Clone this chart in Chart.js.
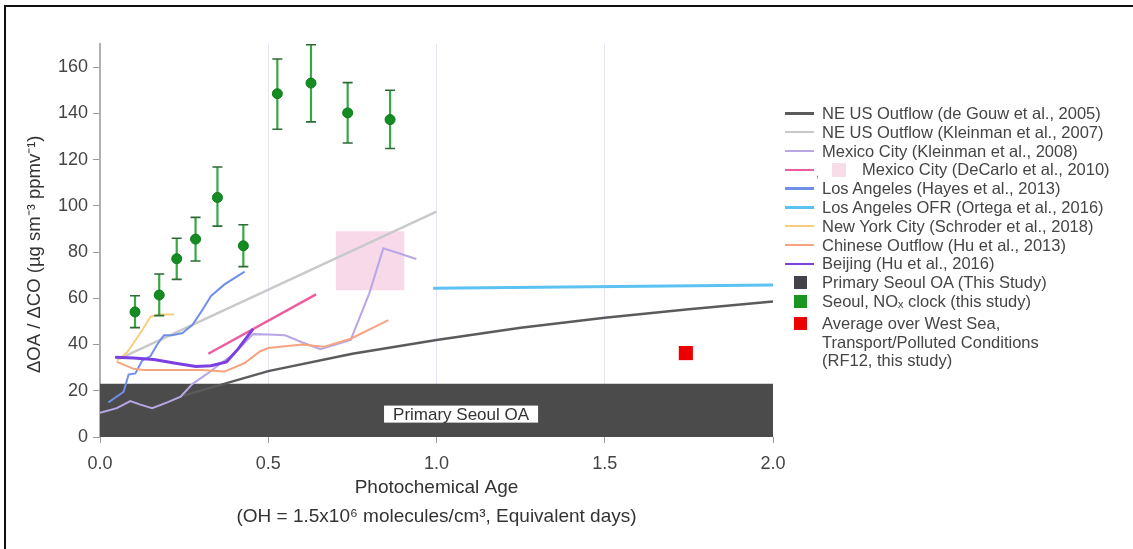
<!DOCTYPE html>
<html><head><meta charset="utf-8">
<script src="https://cdn.jsdelivr.net/npm/chart.js@4"></script>
<style>
html,body{margin:0;padding:0;background:#fff;}
#wrap{position:relative;width:1133px;height:549px;overflow:hidden;font-family:"Liberation Sans",Arial,sans-serif;background:#fff;}
#c{position:absolute;left:0;top:0;}
.frameTop{position:absolute;left:4px;top:5px;width:1129px;height:2px;background:#111;}
.frameLeft{position:absolute;left:4px;top:5px;width:2px;height:544px;background:#111;}
#legend{position:absolute;left:785px;top:104px;font-size:16.5px;color:#454545;}
.row{display:flex;align-items:center;height:18.8px;line-height:18.8px;white-space:nowrap;}
.row.multi{align-items:flex-start;height:auto;margin-top:3px;}
.ln{display:inline-block;width:29px;height:2.5px;margin-right:8px;flex:none;}
.sq{display:inline-block;width:13px;height:13px;margin-left:9px;margin-right:15px;flex:none;}
.multi .sq{margin-top:3px;}
.cm{display:inline-block;width:6px;margin-left:2px;font-size:11px;color:#777;position:relative;top:4px;}
.sq2{display:inline-block;width:14px;height:14px;margin-left:10px;margin-right:16px;flex:none;}
</style></head>
<body>
<div id="wrap">
<canvas id="c" width="1133" height="549"></canvas>
<div class="frameTop"></div><div class="frameLeft"></div>
<div id="legend"></div>
</div>
<script>
// ---------- data ----------
const xTicks = [0, 0.5, 1.0, 1.5, 2.0];
const xTickLabels = ['0.0', '0.5', '1.0', '1.5', '2.0'];
const yTicks = [0, 20, 40, 60, 80, 100, 120, 140, 160];
const yTickLabels = ['0', '20', '40', '60', '80', '100', '120', '140', '160'];
const xTitle = ['Photochemical Age', '(OH = 1.5x10⁶ molecules/cm³, Equivalent days)'];
const yTitle = 'ΔOA / ΔCO (µg sm⁻³ ppmv⁻¹)';

const seriesLabels = [
  'NE US Outflow (de Gouw et al., 2005)',
  'NE US Outflow (Kleinman et al., 2007)',
  'Mexico City (Kleinman et al., 2008)',
  'Mexico City (DeCarlo et al., 2010)',
  'Los Angeles (Hayes et al., 2013)',
  'Los Angeles OFR (Ortega et al., 2016)',
  'New York City (Schroder et al., 2018)',
  'Chinese Outflow (Hu et al., 2013)',
  'Beijing (Hu et al., 2016)',
  'Primary Seoul OA (This Study)',
  'Seoul, NOₓ clock (this study)',
  ['Average over West Sea,', 'Transport/Polluted Conditions', '(RF12, this study)']
];

const deGouw = [[0.25,18],[0.5,28.5],[0.75,36],[1.0,42],[1.25,47.3],[1.5,51.6],[1.75,55.3],[2.0,58.6]];
const kleinman07 = [[0.06,34],[1.0,97.5]];
const kleinman08 = [[0,10.5],[0.05,12.5],[0.09,15.5],[0.12,14],[0.155,12.5],[0.2,15],[0.24,17.5],[0.275,23],[0.32,27.5],[0.36,32],[0.39,35],[0.425,40],[0.455,44.5],[0.5,44.3],[0.55,44],[0.6,41],[0.655,38],[0.7,40],[0.745,42],[0.8,62],[0.842,81.6],[0.94,77]];
const decarlo = [[0.322,36],[0.642,61.7]];
const decarloBoxX = [0.70, 0.905];
const decarloBoxY = [63.5, 89];
const hayes = [[0.025,15],[0.045,17],[0.07,19.5],[0.085,27],[0.105,27.5],[0.125,33],[0.15,35],[0.17,40],[0.19,44],[0.215,44],[0.245,45],[0.275,48.5],[0.3,54],[0.33,61],[0.37,66],[0.43,71.5]];
const ortega = [[0.99,64.3],[2.0,65.8]];
const nyc = [[0.05,33],[0.08,36.5],[0.12,45],[0.15,52],[0.175,53],[0.22,53]];
const chineseOutflow = [[0.05,32.5],[0.1,29.5],[0.13,29],[0.3,29],[0.37,28.3],[0.43,32],[0.475,37],[0.5,38.5],[0.6,40],[0.665,39],[0.745,42.5],[0.857,50.6]];
const beijing = [[0.045,34.5],[0.1,34.2],[0.16,33.5],[0.22,32],[0.285,30.5],[0.33,30.8],[0.376,32.5],[0.41,38],[0.455,46.8]];
const primaryOAExtent = [0, 2.0];
const primaryOALevel = 23;
const primaryLabel = 'Primary Seoul OA';
const seoulX = [0.104,0.176,0.228,0.284,0.349,0.426,0.527,0.627,0.736,0.862];
const seoulY = [54.1,61.4,77.1,85.6,103.6,82.7,148.5,153.1,140.2,137.3];
const seoulHi = [61.1,70.5,86.0,95.0,116.8,91.8,163.5,169.7,153.3,150.0];
const seoulLo = [47.3,52.5,68.2,76.1,91.2,73.7,133.1,136.3,127.2,124.8];
const westSea = [[1.741,36.3]];

// ---------- styles ----------
const FONT = '"Liberation Sans", Arial, sans-serif';
const col = {
  deGouw:'#5b5b5b', kleinman07:'#c9c9c9', kleinman08:'#b9a6e6', decarlo:'#ec5c9e', decarloBox:'rgba(246,210,230,0.85)',
  hayes:'#6f8fe9', ortega:'#5cc2f2', nyc:'#f7cf7c', chinese:'#f5a47f', beijing:'#7b3fe2',
  primary:'#4b4b4b', primaryLegend:'#45434a', seoul:'#148c22', west:'#ec0000'
};
const pts = a => a.map(p => ({x:p[0], y:p[1]}));
const lineDs = (label, data, color, w, order) => ({
  label, data: pts(data), borderColor: color, backgroundColor: color, borderWidth: w,
  pointRadius: 0, tension: 0, fill: false, showLine: true, order
});

const datasets = [
  lineDs(seriesLabels[0], deGouw, col.deGouw, 2.5, 20),
  lineDs(seriesLabels[1], kleinman07, col.kleinman07, 2.5, 19),
  lineDs(seriesLabels[2], kleinman08, col.kleinman08, 2, 18),
  lineDs(seriesLabels[3], decarlo, col.decarlo, 2.5, 17),
  lineDs(seriesLabels[4], hayes, col.hayes, 2, 16),
  lineDs(seriesLabels[5], ortega, col.ortega, 3, 15),
  lineDs(seriesLabels[6], nyc, col.nyc, 2, 14),
  lineDs(seriesLabels[7], chineseOutflow, col.chinese, 2, 13),
  lineDs(seriesLabels[8], beijing, col.beijing, 3, 12),
  { label: 'DeCarlo range', data: decarloBoxX.map(x => ({x, y: decarloBoxY[1]})),
    borderWidth: 0, borderColor: 'rgba(0,0,0,0)', backgroundColor: col.decarloBox,
    fill: {value: decarloBoxY[0]}, pointRadius: 0, showLine: true, order: 90 },
  { label: seriesLabels[9], data: primaryOAExtent.map(x => ({x, y: primaryOALevel})),
    borderWidth: 0, borderColor: 'rgba(0,0,0,0)', backgroundColor: col.primary,
    fill: 'origin', pointRadius: 0, showLine: true, order: 100 },
  { label: seriesLabels[10], data: seoulX.map((x, i) => ({x, y: seoulY[i]})),
    errLow: seoulLo, errHigh: seoulHi, showLine: false,
    pointRadius: 5, pointBackgroundColor: col.seoul, pointBorderColor: '#0f7a1b', pointBorderWidth: 1, order: 1 },
  { label: 'Average over West Sea', data: pts(westSea), showLine: false, pointStyle: 'rect',
    pointRadius: 10, pointBackgroundColor: col.west, pointBorderColor: col.west, pointBorderWidth: 0, order: 2 }
];

const errorBars = {
  id: 'errorBars',
  beforeDatasetDraw(chart, args) {
    const ds = chart.data.datasets[args.index];
    if (!ds.errLow) return;
    const {ctx, scales: {x, y}} = chart;
    ctx.save();
    ds.data.forEach((p, i) => {
      const px = x.getPixelForValue(p.x);
      const lo = y.getPixelForValue(ds.errLow[i]);
      const hi = y.getPixelForValue(ds.errHigh[i]);
      ctx.strokeStyle = '#38a844'; ctx.lineWidth = 2.2;
      ctx.beginPath(); ctx.moveTo(px, lo); ctx.lineTo(px, hi); ctx.stroke();
      ctx.strokeStyle = '#2c6b34'; ctx.lineWidth = 1.6;
      ctx.beginPath();
      ctx.moveTo(px - 5, lo); ctx.lineTo(px + 5, lo);
      ctx.moveTo(px - 5, hi); ctx.lineTo(px + 5, hi);
      ctx.stroke();
    });
    ctx.restore();
  }
};

const boxLabel = {
  id: 'boxLabel',
  afterDatasetsDraw(chart) {
    const {ctx, scales: {x, y}} = chart;
    const cx = x.getPixelForValue(1.073), cy = y.getPixelForValue(9.9);
    ctx.save();
    ctx.font = '17px ' + FONT;
    const w = ctx.measureText(primaryLabel).width;
    ctx.fillStyle = '#ffffff';
    ctx.fillRect(cx - w / 2 - 9, cy - 8.5, w + 18, 17);
    ctx.fillStyle = '#333';
    ctx.textAlign = 'center'; ctx.textBaseline = 'middle';
    ctx.fillText(primaryLabel, cx, cy + 1);
    ctx.restore();
  }
};

// y-axis title, anchored at its start (bottom) next to the axis
const yTitlePlugin = {
  id: 'yTitlePlugin',
  afterDraw(chart) {
    const {ctx} = chart;
    ctx.save();
    ctx.translate(39.5, 373);
    ctx.rotate(-Math.PI / 2);
    ctx.font = '18.5px ' + FONT;
    ctx.fillStyle = '#333';
    ctx.textAlign = 'left'; ctx.textBaseline = 'alphabetic';
    ctx.fillText(yTitle, 0, 0);
    ctx.restore();
  }
};

new Chart(document.getElementById('c'), {
  type: 'line',
  data: { datasets },
  options: {
    responsive: false, animation: false, devicePixelRatio: 1,
    layout: { padding: { left: 10, top: 44, right: 360, bottom: 0 } },
    plugins: { legend: { display: false }, tooltip: { enabled: false } },
    scales: {
      x: {
        type: 'linear', min: 0, max: 2,
        afterBuildTicks: s => { s.ticks = xTicks.map(v => ({value: v})); },
        afterFit: s => { s.height = 112; },
        ticks: { font: { size: 18, family: FONT }, color: '#444', padding: 10, maxRotation: 0, autoSkip: false,
                 callback: (v, i) => xTickLabels[i] },
        grid: { color: c => (c.tick && c.tick.value > 0 && c.tick.value < 2) ? 'rgba(222,222,244,0.8)' : 'rgba(0,0,0,0)',
                tickColor: '#999', tickLength: 6, lineWidth: 1 },
        border: { display: false },
        title: { display: true, text: xTitle,
                 font: { size: 19, family: FONT, lineHeight: 1.526 }, color: '#333', padding: { top: 0, bottom: 17.5 } }
      },
      y: {
        type: 'linear', min: 0, max: 170,
        afterBuildTicks: s => { s.ticks = yTicks.map(v => ({value: v})); },
        afterFit: s => { s.width = 90; },
        ticks: { font: { size: 18, family: FONT }, color: '#444', padding: 5, callback: (v, i) => yTickLabels[i] },
        grid: { drawOnChartArea: false, drawTicks: true, tickLength: 7, tickColor: '#999', color: '#999' },
        border: { display: true, color: '#b0b0b0', width: 2 },
        title: { display: false }
      }
    }
  },
  plugins: [errorBars, boxLabel, yTitlePlugin]
});

// ---------- legend (HTML, from the same labels) ----------
const legendItems = [
  {t: 'line', c: col.deGouw}, {t: 'line', c: col.kleinman07}, {t: 'line', c: col.kleinman08},
  {t: 'decarlo', c: col.decarlo}, {t: 'line', c: col.hayes}, {t: 'line', c: col.ortega},
  {t: 'line', c: col.nyc}, {t: 'line', c: col.chinese}, {t: 'line', c: col.beijing},
  {t: 'sq', c: col.primaryLegend}, {t: 'sq', c: '#1a951f'}, {t: 'sq', c: col.west}
];
const leg = document.getElementById('legend');
legendItems.forEach((it, i) => {
  const lab = seriesLabels[i];
  const row = document.createElement('div');
  row.className = 'row' + (Array.isArray(lab) ? ' multi' : '');
  if (it.t === 'line') {
    row.innerHTML = `<span class="ln" style="background:${it.c}"></span><span>${lab}</span>`;
  } else if (it.t === 'decarlo') {
    row.innerHTML = `<span class="ln" style="background:${it.c};margin-right:0"></span><span class="cm">,</span><span class="sq2" style="background:#f8dce8"></span><span>${lab}</span>`;
  } else {
    const txt = Array.isArray(lab) ? lab.join('<br>') : lab;
    row.innerHTML = `<span class="sq" style="background:${it.c}"></span><span>${txt}</span>`;
  }
  leg.appendChild(row);
});
</script>
</body></html>
